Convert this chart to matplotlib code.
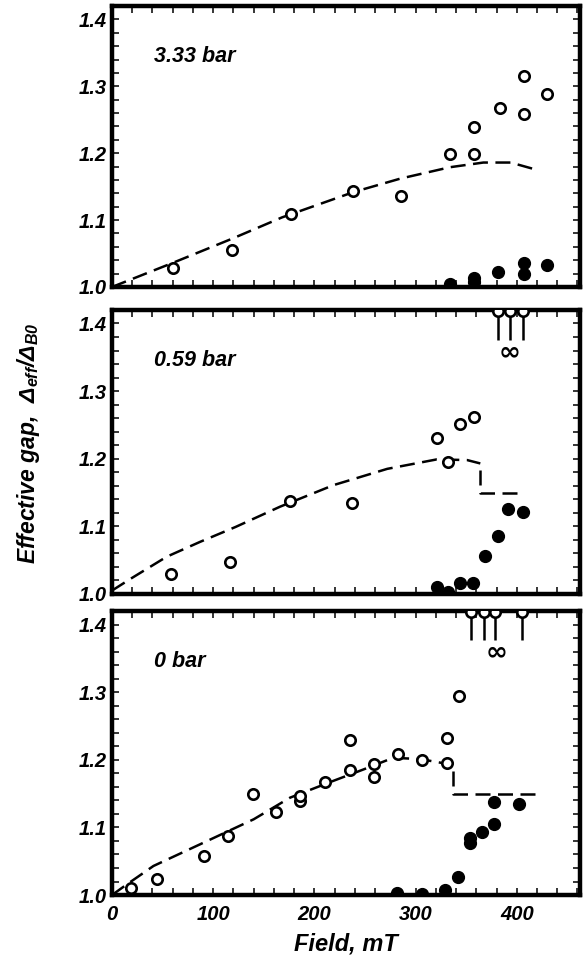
import matplotlib
matplotlib.use('Agg')
import matplotlib.pyplot as plt
from matplotlib.ticker import MultipleLocator, FormatStrFormatter

# Dati (campo in mT, gap efficace normalizzato)
# --- 3.33 bar ---
top_open_x = [60, 119, 177, 238, 286, 334, 358, 358, 383, 407, 407, 430]
top_open_y = [1.029, 1.056, 1.109, 1.144, 1.136, 1.199, 1.199, 1.239, 1.267, 1.316, 1.259, 1.289]
top_fill_x = [334, 358, 358, 381, 407, 407, 430]
top_fill_y = [1.004, 1.014, 1.007, 1.022, 1.036, 1.019, 1.033]
top_curve_x = [0, 60, 120, 168, 239, 285, 334, 367, 394, 420]
top_curve_y = [1.0, 1.036, 1.073, 1.104, 1.142, 1.162, 1.179, 1.186, 1.186, 1.175]

# --- 0.59 bar ---
mid_open_x = [58, 117, 176, 237, 321, 332, 344, 358]
mid_open_y = [1.029, 1.047, 1.138, 1.135, 1.231, 1.195, 1.252, 1.262]
mid_fill_x = [321, 332, 344, 357, 369, 381, 391, 406]
mid_fill_y = [1.010, 1.003, 1.016, 1.016, 1.056, 1.085, 1.125, 1.121]
mid_off_x = [381, 393, 406]
mid_curve_x = [0, 19, 54, 87, 122, 166, 219, 272, 321, 351, 364]
mid_curve_y = [1.005, 1.023, 1.055, 1.077, 1.099, 1.129, 1.161, 1.185, 1.199, 1.198, 1.193]
mid_step_x = [364, 364, 407]
mid_step_y = [1.183, 1.149, 1.149]

# --- 0 bar ---
bot_open_x = [19, 44, 91, 115, 139, 162, 186, 186, 211, 235, 235, 259, 259, 283, 306, 331, 331, 343]
bot_open_y = [1.010, 1.024, 1.058, 1.087, 1.150, 1.123, 1.139, 1.146, 1.167, 1.185, 1.230,
              1.194, 1.174, 1.208, 1.200, 1.196, 1.232, 1.295]
bot_fill_x = [282, 306, 329, 342, 354, 354, 366, 378, 378, 402]
bot_fill_y = [1.003, 1.002, 1.008, 1.027, 1.085, 1.077, 1.093, 1.105, 1.137, 1.135]
bot_off_x = [355, 368, 379, 405]
bot_curve_x = [0, 14, 41, 87, 140, 176, 219, 249, 278, 305, 331]
bot_curve_y = [1.0, 1.015, 1.043, 1.075, 1.112, 1.144, 1.169, 1.186, 1.203, 1.201, 1.194]
bot_step_x = [337, 337, 419]
bot_step_y = [1.184, 1.150, 1.150]

panel_labels = ['3.33 bar', '0.59 bar', '0 bar']

# Font
plt.rcParams['font.family'] = ['Liberation Sans', 'DejaVu Sans']
plt.rcParams['font.weight'] = 'bold'
plt.rcParams['font.style'] = 'italic'
plt.rcParams['axes.labelweight'] = 'bold'
plt.rcParams['mathtext.fontset'] = 'custom'
plt.rcParams['mathtext.rm'] = 'Liberation Sans'
plt.rcParams['mathtext.it'] = 'Liberation Sans:italic:bold'
plt.rcParams['mathtext.bf'] = 'Liberation Sans:bold'

fig = plt.figure(figsize=(5.86, 9.65), dpi=100, facecolor='white')

left, width = 0.1911, 0.7995
ax1 = fig.add_axes([left, 0.7026, width, 0.2912])
ax2 = fig.add_axes([left, 0.3845, width, 0.2943])
ax3 = fig.add_axes([left, 0.0725, width, 0.2943])

dash_kw = dict(color='black', lw=1.8, linestyle=(0, (6, 3)), zorder=2)
open_kw = dict(linestyle='none', marker='o', ms=7.5, mfc='white', mec='black', mew=1.9, zorder=3)
fill_kw = dict(linestyle='none', marker='o', ms=8.5, mfc='black', mec='black', zorder=3)


def style_axes(ax, label, show_x):
    ax.set_xlim(0, 463)
    ax.set_ylim(1.0, 1.42)
    ax.xaxis.set_major_locator(MultipleLocator(100))
    ax.xaxis.set_minor_locator(MultipleLocator(20))
    ax.yaxis.set_major_locator(MultipleLocator(0.1))
    ax.yaxis.set_minor_locator(MultipleLocator(0.02))
    ax.yaxis.set_major_formatter(FormatStrFormatter('%.1f'))
    ax.tick_params(which='both', direction='in', top=True, right=True,
                   length=5, width=1.1, labelsize=14.5)
    ax.tick_params(axis='y', pad=4)
    ax.tick_params(axis='x', pad=7, labelbottom=show_x)
    for sp in ax.spines.values():
        sp.set_linewidth(3.2)
    ax.text(42, 1.345, label, fontsize=15.5, ha='left', va='center')


def draw_infinity(ax, x, y):
    # segno di infinito (valori fuori scala)
    ax.text(x, y, '\u221e', fontsize=19, ha='center', va='center',
            family='DejaVu Sans', style='italic', weight='bold')


# Pannello 3.33 bar
ax1.plot(top_curve_x, top_curve_y, **dash_kw)
ax1.plot(top_open_x, top_open_y, **open_kw)
ax1.plot(top_fill_x, top_fill_y, **fill_kw)
style_axes(ax1, panel_labels[0], False)

# Pannello 0.59 bar
ax2.plot(mid_curve_x, mid_curve_y, **dash_kw)
ax2.plot(mid_step_x, mid_step_y, **dash_kw)
ax2.plot(mid_open_x, mid_open_y, **open_kw)
ax2.plot(mid_fill_x, mid_fill_y, **fill_kw)
ax2.plot(mid_off_x, [1.418] * len(mid_off_x), **open_kw)
ax2.vlines(mid_off_x, 1.376, 1.42, color='black', lw=1.8, zorder=2)
draw_infinity(ax2, 393, 1.357)
style_axes(ax2, panel_labels[1], False)

# Pannello 0 bar
ax3.plot(bot_curve_x, bot_curve_y, **dash_kw)
ax3.plot(bot_step_x, bot_step_y, **dash_kw)
ax3.plot(bot_open_x, bot_open_y, **open_kw)
ax3.plot(bot_fill_x, bot_fill_y, **fill_kw)
ax3.plot(bot_off_x, [1.418] * len(bot_off_x), **open_kw)
ax3.vlines(bot_off_x, 1.377, 1.42, color='black', lw=1.8, zorder=2)
draw_infinity(ax3, 380, 1.359)
style_axes(ax3, panel_labels[2], True)
ax3.set_xlabel('Field, mT', fontsize=17, labelpad=6)

# Etichetta asse y comune
fig.text(29 / 586, 1 - 443 / 965,
         r'Effective gap,  $\mathrm{\Delta}_{\mathit{eff}}/\mathrm{\Delta}_{\mathbf{B0}}$',
         rotation=90, ha='center', va='center', fontsize=16.5)

fig.savefig('out.png', dpi=100, facecolor='white')
